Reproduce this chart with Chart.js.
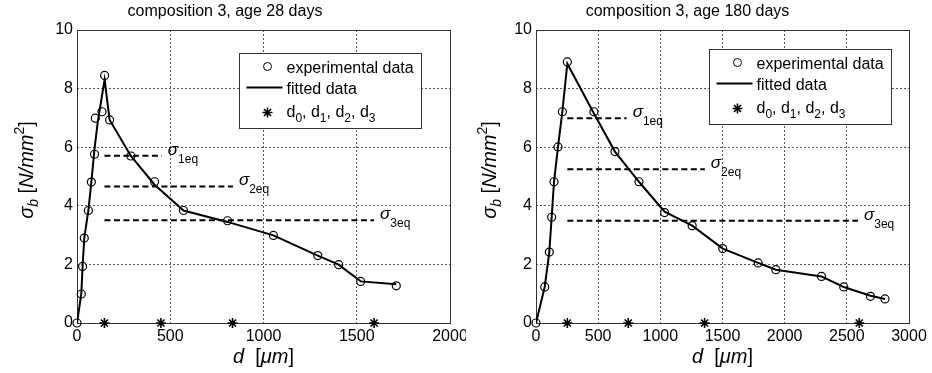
<!DOCTYPE html>
<html>
<head>
<meta charset="utf-8">
<script src="https://cdn.jsdelivr.net/npm/chart.js@4"></script>
<style>
html, body { margin: 0; padding: 0; background: #fff; }
#wrap { position: relative; width: 932px; height: 373px; }
canvas { position: absolute; top: 0; }
</style>
</head>
<body>
<div id="wrap">
  <canvas id="c28" width="466" height="373" style="left:0"></canvas>
  <canvas id="c180" width="466" height="373" style="left:466px"></canvas>
</div>
<script>
// composition 3, age 28 days
const d28 = [0, 23, 30, 39, 61, 77, 94, 98, 134, 148, 175, 289, 416, 571, 807, 1053, 1291, 1403, 1521, 1712];
const s28 = [0, 0.99, 1.93, 2.90, 3.84, 4.81, 5.76, 6.99, 7.21, 8.45, 6.93, 5.70, 4.82, 3.84, 3.49, 2.99, 2.30, 1.99, 1.42, 1.27];
const fitD28 = [0, 23, 30, 39, 61, 77, 94, 112, 148, 175, 289, 416, 571, 807, 1053, 1291, 1403, 1521, 1712];
const fitS28 = [0, 0.99, 1.93, 2.90, 3.84, 4.81, 5.95, 6.9, 8.3, 6.93, 5.70, 4.72, 3.84, 3.45, 2.99, 2.30, 1.99, 1.42, 1.32];
const dk28 = [147, 450, 834, 1593];
const eqLevel28 = [5.71, 4.66, 3.51];
const eqEnd28 = [455, 836, 1593];

// composition 3, age 180 days
const d180 = [0, 70, 107, 126, 145, 177, 212, 252, 466, 635, 828, 1034, 1256, 1502, 1787, 1929, 2296, 2475, 2690, 2807];
const s180 = [0, 1.23, 2.42, 3.61, 4.82, 6.01, 7.21, 8.91, 7.21, 5.85, 4.82, 3.77, 3.32, 2.54, 2.05, 1.82, 1.59, 1.23, 0.91, 0.82];
const fitD180 = [0, 70, 107, 126, 145, 177, 212, 252, 466, 635, 828, 1034, 1256, 1502, 1787, 1929, 2296, 2475, 2690, 2807];
const fitS180 = [0, 1.23, 2.42, 3.61, 4.82, 6.01, 7.21, 8.85, 7.15, 5.85, 4.82, 3.8, 3.32, 2.54, 2.05, 1.82, 1.59, 1.23, 0.93, 0.82];
const dk180 = [252, 742, 1356, 2600];
const eqLevel180 = [6.99, 5.25, 3.49];
const eqEnd180 = [729, 1358, 2590];

const eqNames = ['1eq', '2eq', '3eq'];
const yTicksMax = 10;

const FONT = '"Liberation Sans", Arial, sans-serif';
function font(size, it) { return (it ? 'italic ' : '') + size + 'px ' + FONT; }
function runs(ctx, parts, x, y, align) {
    let w = 0;
    parts.forEach(p => { ctx.font = font(p.size, p.it); p.w = ctx.measureText(p.t).width; w += p.w; });
    let cx = align === 'center' ? x - w / 2 : x;
    ctx.textAlign = 'left'; ctx.textBaseline = 'alphabetic'; ctx.fillStyle = '#000';
    parts.forEach(p => { ctx.font = font(p.size, p.it); ctx.fillText(p.t, cx, y + (p.dy || 0)); cx += p.w; });
}
const xy = (xs, ys) => xs.map((x, i) => ({ x, y: ys[i] }));

function build(id, c) {
    const datasets = [
        { label: 'experimental data', data: xy(c.d, c.s), showLine: false, pointStyle: 'circle', pointRadius: 4,
          borderWidth: 1.2, borderColor: '#000', backgroundColor: 'rgba(0,0,0,0)', clip: false },
        { label: 'fitted data', data: xy(c.fitD, c.fitS), showLine: true, borderColor: '#000', borderWidth: 2, pointRadius: 0, tension: 0 },
        { label: 'd0, d1, d2, d3', data: c.dk.map(x => ({ x, y: 0 })), showLine: false, pointStyle: 'star', pointRadius: 5,
          borderWidth: 1.6, borderColor: '#000', clip: false },
    ];
    c.eqLevel.forEach((lv, i) => datasets.push({
        label: 'σ' + eqNames[i], data: [{ x: c.dk[0], y: lv }, { x: c.eqEnd[i], y: lv }], showLine: true,
        borderColor: '#000', borderWidth: 2, borderDash: [6, 3.5], pointRadius: 0
    }));

    const decor = {
        id: 'decor',
        beforeDatasetsDraw(chart) {
            const { ctx, chartArea: a } = chart;
            ctx.save(); ctx.strokeStyle = '#333'; ctx.lineWidth = 1;
            ctx.strokeRect(Math.round(a.left) + 0.5, Math.round(a.top) + 0.5, Math.round(a.right - a.left), Math.round(a.bottom - a.top));
            ctx.restore();
        },
        afterDatasetsDraw(chart) {
            const { ctx, chartArea: a, scales } = chart;
            ctx.save();
            // sigma labels
            c.eqLevel.forEach((lv, i) => {
                const x = scales.x.getPixelForValue(c.eqEnd[i]) + 6, y = scales.y.getPixelForValue(lv);
                runs(ctx, [{ t: 'σ', size: 17, it: true }, { t: eqNames[i], size: 12, dy: 8 }], x, y - 1);
            });
            // legend
            const bw = 182, bh = 75;
            const bx = Math.round(a.right - c.legR - bw) + 0.5, by = Math.round(a.top + c.legT) + 0.5;
            ctx.fillStyle = '#fff'; ctx.fillRect(bx, by, bw, bh);
            ctx.strokeStyle = '#333'; ctx.lineWidth = 1; ctx.strokeRect(bx, by, bw, bh);
            ctx.strokeStyle = '#000'; ctx.fillStyle = 'rgba(0,0,0,0)';
            Chart.helpers.drawPoint(ctx, { pointStyle: 'circle', radius: 4, borderWidth: 1.2 }, bx + 28, by + 13);
            ctx.lineWidth = 2; ctx.beginPath(); ctx.moveTo(bx + 7, by + 34); ctx.lineTo(bx + 43, by + 34); ctx.stroke();
            ctx.lineWidth = 1.6;
            Chart.helpers.drawPoint(ctx, { pointStyle: 'star', radius: 5, borderWidth: 1.6 }, bx + 28, by + 59);
            runs(ctx, [{ t: 'experimental data', size: 16 }], bx + 47, by + 19);
            runs(ctx, [{ t: 'fitted data', size: 16 }], bx + 47, by + 40);
            const dp = [];
            ['0', '1', '2', '3'].forEach((n, i) => {
                dp.push({ t: 'd', size: 16 }, { t: n, size: 12, dy: 5 });
                if (i < 3) dp.push({ t: ', ', size: 16 });
            });
            runs(ctx, dp, bx + 47, by + 63);
            ctx.restore();
        },
        afterDraw(chart) {
            const { ctx, chartArea: a } = chart;
            ctx.save();
            runs(ctx, [{ t: 'd', size: 20, it: true }, { t: '  [', size: 20 }, { t: 'μm', size: 20, it: true }, { t: ']', size: 20 }],
                (a.left + a.right) / 2, 363, 'center');
            ctx.translate(a.left - c.yTitle, 170);
            ctx.rotate(-Math.PI / 2);
            runs(ctx, [{ t: 'σ', size: 20, it: true }, { t: 'b', size: 14, it: true, dy: 5 }, { t: ' [', size: 20 },
                { t: 'N/mm', size: 20, it: true }, { t: '2', size: 14, dy: -9 }, { t: ']', size: 20 }], 0, 0, 'center');
            ctx.restore();
        }
    };

    return new Chart(document.getElementById(id), {
        type: 'scatter',
        data: { datasets },
        options: {
            responsive: false, animation: false, events: [],
            layout: { padding: { top: 0, left: 0, bottom: 0, right: c.padR } },
            plugins: {
                legend: { display: false }, tooltip: { enabled: false },
                title: { display: true, text: c.title, color: '#000', font: { size: 16, weight: 'normal', family: FONT },
                         padding: { top: 2, bottom: 8.8 } }
            },
            scales: {
                x: {
                    type: 'linear', min: 0, max: c.xMax,
                    ticks: { stepSize: 500, color: '#000', font: { size: 16, family: FONT }, padding: 4, maxRotation: 0,
                             callback: v => String(v) },
                    grid: { color: '#555', lineWidth: 1, drawTicks: false },
                    border: { display: false, dash: [2, 2] },
                    afterFit(s) { s.height = 50; s.paddingLeft = 0; s.paddingRight = 0; }
                },
                y: {
                    type: 'linear', min: 0, max: yTicksMax,
                    ticks: { stepSize: 2, color: '#000', font: { size: 16, family: FONT }, padding: 4, callback: v => String(v) },
                    grid: { color: '#555', lineWidth: 1, drawTicks: false },
                    border: { display: false, dash: [2, 2] },
                    afterFit(s) { s.width = c.yW; s.paddingTop = 0; s.paddingBottom = 0; }
                }
            }
        },
        plugins: [decor]
    });
}

build('c28', { d: d28, s: s28, fitD: fitD28, fitS: fitS28, dk: dk28, eqLevel: eqLevel28, eqEnd: eqEnd28,
    xMax: 2000, title: 'composition 3, age 28 days', yW: 77, padR: 16, legR: 29, legT: 23, yTitle: 44 });
build('c180', { d: d180, s: s180, fitD: fitD180, fitS: fitS180, dk: dk180, eqLevel: eqLevel180, eqEnd: eqEnd180,
    xMax: 3000, title: 'composition 3, age 180 days', yW: 70, padR: 23, legR: 18, legT: 19, yTitle: 40 });
</script>
</body>
</html>
